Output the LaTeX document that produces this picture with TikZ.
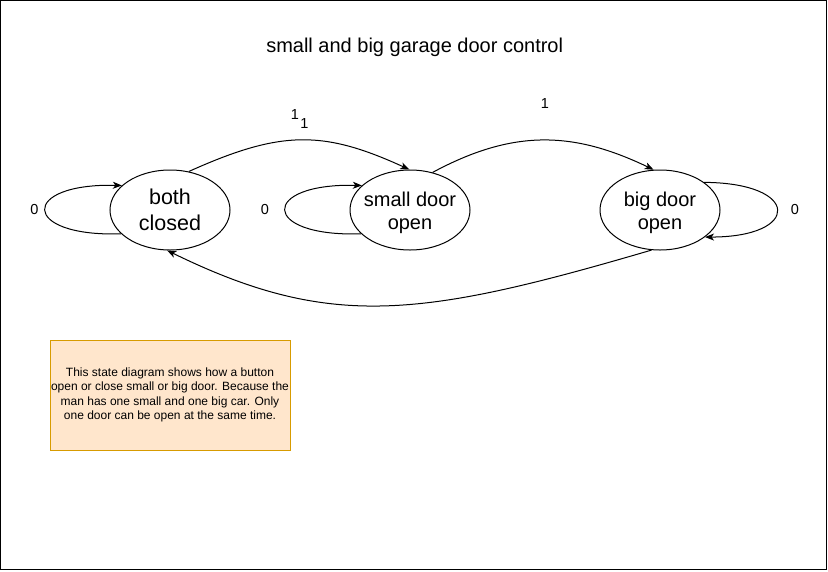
\documentclass[tikz,border=0pt]{standalone}
\usepackage{fontspec}
\setmainfont{Liberation Sans}
\usetikzlibrary{arrows.meta,shapes.geometric}
\definecolor{notebg}{HTML}{FFE6CC}
\definecolor{notebd}{HTML}{D79B00}
\begin{document}
\begin{tikzpicture}[x=1pt,y=-1pt,
  state/.style={ellipse, draw, line width=1pt, minimum width=120pt, minimum height=80pt, inner sep=0pt},
  stxt/.style={font=\fontsize{20}{23.5}\selectfont, align=center, inner sep=0pt},
  edge/.style={draw, line width=1pt, -{Stealth[length=9pt,width=7pt,inset=2.5pt]}},
  lbl/.style={inner sep=0pt, font=\fontsize{14.5}{16}\selectfont},
  note/.style={draw=notebd, fill=notebg, line width=1pt, minimum width=240pt, minimum height=110pt, inner sep=0pt, align=center, font=\fontsize{12}{14.5}\selectfont}
]
\useasboundingbox (0,0) rectangle (828,571);
\draw[line width=1.2pt] (0.6,0.6) rectangle (826.8,569.8);

\node[font=\fontsize{20}{24}\selectfont, inner sep=0pt] (title) at (414.7,47.5) {small and big garage door control};

\node[state] (bc) at (170,210) {};
\node[stxt, font=\fontsize{21.5}{26}\selectfont] (bct) at (170,210) {both\\closed};
\node[state] (sd) at (410,210) {};
\node[stxt] (sdt) at (410,213) {small door\\open};
\node[state] (bd) at (660,210) {};
\node[stxt] (bdt) at (660,213) {big door\\open};

\draw[edge] (bc.64) .. controls (281,130) and (323,130) .. (sd.91);
\draw[edge] (sd.59) .. controls (515,128) and (575,132) .. (bd.99);
\draw[edge] (bd.258) .. controls (420,318) and (330,330) .. (bc.266);
\draw[edge] (bc.206) .. controls (20,237) and (20,183) .. (bc.153);
\draw[edge] (sd.206) .. controls (260,237) and (260,183) .. (sd.153);
\draw[edge] (bd.32) .. controls (801,183) and (801,237) .. (bd.-31);

\node[lbl] (l0a) at (34.5,209.5) {0};
\node[lbl] (l0b) at (265,209.5) {0};
\node[lbl] (l0c) at (795,209.5) {0};
\node[lbl] (l1a) at (295,114.3) {1};
\node[lbl] (l1b) at (304.3,123.3) {1};
\node[lbl] (l1c) at (545,104) {1};

\node[note] (note) at (170,395) {This state diagram shows how a button\\open or close small or big door. Because the\\man has one small and one big car. Only\\one door can be open at the same time.};
\end{tikzpicture}
\end{document}
